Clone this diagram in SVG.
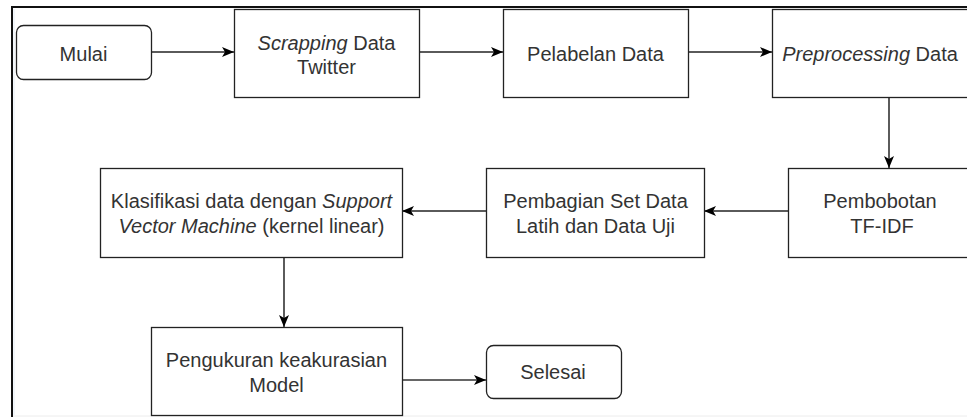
<svg xmlns="http://www.w3.org/2000/svg" width="967" height="417" viewBox="0 0 967 417">
  <defs>
    <style>
      .box { fill: #ffffff; stroke: #222222; stroke-width: 1.3; }
      .lbl { font-family: "Liberation Sans", Arial, sans-serif; font-size: 20px; fill: #333333; text-anchor: middle; }
      .it { font-style: italic; }
      .edge { fill: none; stroke: #333333; stroke-width: 1.6; }
      .edge-h { stroke: #5a5a5a; stroke-width: 2.2; }
      .frame { fill: none; stroke: #111111; stroke-width: 2; }
    </style>
    <marker id="arrow" markerUnits="userSpaceOnUse" markerWidth="14" markerHeight="12" viewBox="0 0 14 12" refX="13" refY="6" orient="auto">
      <path d="M1,1 L13,6 L1,11 L4,6 Z" fill="#000000"/>
    </marker>
  </defs>

  <rect x="0" y="0" width="967" height="417" fill="#ffffff"/>

  <!-- page frame -->
  <g id="frame">
    <path class="frame" d="M11,7 H967 M12,7 V417"/>
    <path d="M14,9 V415" stroke="#e6eef6" stroke-width="1" fill="none"/>
    <path d="M13,416 H967" stroke="#ececec" stroke-width="1" fill="none"/>
  </g>

  <!-- connectors -->
  <g id="connectors">
    <path class="edge edge-h" d="M151,52 H234" marker-end="url(#arrow)"/>
    <path class="edge edge-h" d="M419,52 H503" marker-end="url(#arrow)"/>
    <path class="edge edge-h" d="M688,52 H772" marker-end="url(#arrow)"/>
    <path class="edge" d="M889,97 V168" marker-end="url(#arrow)"/>
    <path class="edge edge-h" d="M788,211 H704" marker-end="url(#arrow)"/>
    <path class="edge edge-h" d="M486,211 H402" marker-end="url(#arrow)"/>
    <path class="edge" d="M284,257 V327" marker-end="url(#arrow)"/>
    <path class="edge" d="M402,380 H486" marker-end="url(#arrow)"/>
  </g>

  <g id="mulai">
    <rect class="box" x="16.5" y="25.5" width="135" height="54" rx="7"/>
    <text class="lbl" x="83.5" y="60.5">Mulai</text>
  </g>

  <g id="scrapping">
    <rect class="box" x="234.5" y="9.5" width="185" height="88"/>
    <text class="lbl" x="326.5" y="50"><tspan class="it">Scrapping</tspan> Data</text>
    <text class="lbl" x="326.5" y="74">Twitter</text>
  </g>

  <g id="pelabelan">
    <rect class="box" x="503.5" y="9.5" width="185" height="88"/>
    <text class="lbl" x="595.5" y="60.5">Pelabelan Data</text>
  </g>

  <g id="preprocessing">
    <rect class="box" x="772.5" y="9.5" width="200" height="88"/>
    <text class="lbl" x="870" y="60.5"><tspan class="it">Preprocessing</tspan> Data</text>
  </g>

  <g id="pembobotan">
    <rect class="box" x="788.5" y="168.5" width="190" height="89"/>
    <text class="lbl" x="880" y="208">Pembobotan</text>
    <text class="lbl" x="882" y="233">TF-IDF</text>
  </g>

  <g id="pembagian">
    <rect class="box" x="486.5" y="168.5" width="218" height="89"/>
    <text class="lbl" x="595.5" y="208">Pembagian Set Data</text>
    <text class="lbl" x="595.5" y="233">Latih dan Data Uji</text>
  </g>

  <g id="klasifikasi">
    <rect class="box" x="100.5" y="168.5" width="302" height="89"/>
    <text class="lbl" x="251.5" y="208">Klasifikasi data dengan <tspan class="it">Support</tspan></text>
    <text class="lbl" x="251.5" y="233"><tspan class="it">Vector Machine</tspan> (kernel linear)</text>
  </g>

  <g id="pengukuran">
    <rect class="box" x="151.5" y="327.5" width="251" height="88"/>
    <text class="lbl" x="276.5" y="367">Pengukuran keakurasian</text>
    <text class="lbl" x="276.5" y="392">Model</text>
  </g>

  <g id="selesai">
    <rect class="box" x="486.5" y="345.5" width="135" height="53" rx="7"/>
    <text class="lbl" x="553" y="379">Selesai</text>
  </g>
</svg>
